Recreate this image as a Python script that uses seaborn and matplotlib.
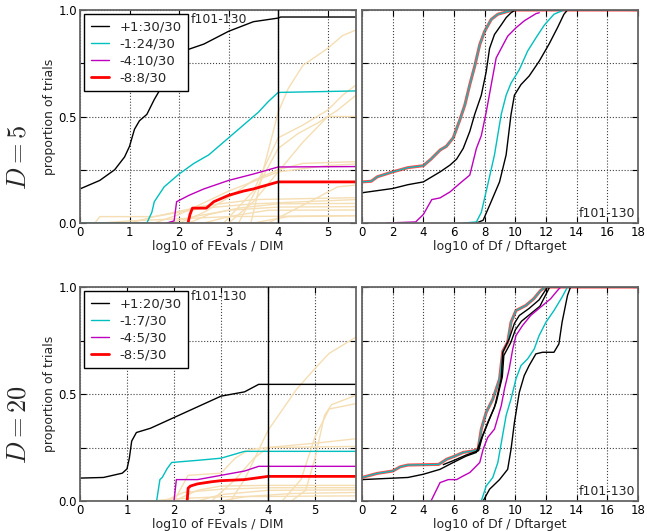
import numpy as np
import pandas as pd
import seaborn as sns
import matplotlib
matplotlib.use("Agg")
import matplotlib.pyplot as plt

# ---------------- data ----------------
# D=5, ECDF over log10(FEvals/DIM)
d5_xmax = 5.57
d5_p1_x = [0, 0.4, 0.7, 0.9, 1.0, 1.1, 1.2, 1.35, 1.5, 1.6, 1.8, 2.0, 2.5, 3.0, 3.5, 4.0, 4.05, 5.57]
d5_p1_y = [0.16, 0.20, 0.25, 0.31, 0.36, 0.44, 0.48, 0.51, 0.58, 0.62, 0.72, 0.80, 0.84, 0.90, 0.945, 0.962, 0.967, 0.967]
d5_m1_x = [0, 1.35, 1.45, 1.5, 1.7, 2.0, 2.3, 2.6, 3.0, 3.3, 3.6, 3.8, 4.0, 5.57]
d5_m1_y = [0, 0, 0.05, 0.10, 0.17, 0.23, 0.28, 0.32, 0.40, 0.46, 0.52, 0.57, 0.613, 0.62]
d5_m4_x = [1.75, 1.9, 1.95, 2.2, 2.5, 3.0, 3.5, 4.0, 5.57]
d5_m4_y = [0, 0.01, 0.10, 0.13, 0.16, 0.20, 0.23, 0.263, 0.265]
d5_m8_x = [2.18, 2.22, 2.27, 2.55, 2.7, 3.0, 3.3, 3.5, 4.0, 5.57]
d5_m8_y = [0, 0.04, 0.07, 0.07, 0.10, 0.13, 0.15, 0.16, 0.193, 0.193]
d5_labels = ["+1:30/30", "-1:24/30", "-4:10/30", "-8:8/30"]

d5_wheat = [
    ([0, 3.45, 3.7, 4.0, 4.2, 4.5, 5.0, 5.3, 5.57], [0, 0, 0.25, 0.52, 0.63, 0.74, 0.82, 0.88, 0.906]),
    ([0, 2.9, 3.5, 4.0, 4.5, 5.0, 5.3, 5.57], [0, 0, 0.15, 0.40, 0.46, 0.53, 0.60, 0.648]),
    ([0, 3.2, 3.7, 4.0, 4.4, 4.8, 5.2, 5.57], [0, 0, 0.22, 0.35, 0.42, 0.47, 0.53, 0.60]),
    ([0, 3.0, 3.5, 4.0, 4.5, 5.0, 5.57], [0, 0, 0.10, 0.24, 0.38, 0.50, 0.50]),
    ([0, 2.0, 2.5, 3.0, 3.5, 4.0, 4.5, 5.57], [0, 0, 0.05, 0.12, 0.20, 0.25, 0.28, 0.288]),
    ([0, 1.5, 2.0, 3.0, 4.0, 5.0, 5.57], [0, 0, 0.04, 0.15, 0.24, 0.27, 0.277]),
    ([0, 3.8, 4.3, 4.8, 5.2, 5.57], [0, 0, 0.06, 0.12, 0.17, 0.178]),
    ([0, 0.3, 0.4, 1.5, 2.5, 3.5, 5.57], [0, 0, 0.03, 0.03, 0.08, 0.11, 0.119]),
    ([0, 1.0, 1.5, 2.5, 3.5, 4.5, 5.57], [0, 0, 0.03, 0.07, 0.09, 0.10, 0.11]),
    ([0, 2.2, 2.6, 3.2, 4.0, 5.57], [0, 0, 0.04, 0.07, 0.09, 0.092]),
    ([0, 1.8, 2.3, 3.0, 4.0, 5.57], [0, 0, 0.03, 0.06, 0.075, 0.077]),
    ([0, 2.5, 3.0, 3.8, 5.57], [0, 0, 0.03, 0.06, 0.061]),
    ([0, 3.5, 4.2, 5.57], [0, 0, 0.03, 0.034]),
    ([0, 0.4, 1.0, 2.0, 3.0, 5.57], [0, 0, 0.01, 0.02, 0.03, 0.035]),
]

# D=5, ECDF over log10(Df/Dftarget)
d5_df_a_x = [0, 0.6, 1, 2, 3, 4, 4.5, 5.1, 5.5, 5.95, 6.38, 6.71, 7.03, 7.35, 7.68, 8.0, 8.43, 8.86, 9.6, 10.0, 18]
d5_df_a_y = [0.193, 0.196, 0.217, 0.24, 0.26, 0.269, 0.30, 0.343, 0.36, 0.40, 0.484, 0.555, 0.65, 0.736, 0.838, 0.90, 0.956, 0.98, 0.995, 1.0, 1.0]
d5_df_b_x = [0, 2, 3, 4, 5.09, 5.74, 6.17, 6.6, 7.03, 7.35, 7.78, 8.1, 8.32, 8.64, 9.08, 9.4, 9.72, 10.0, 18]
d5_df_b_y = [0.142, 0.162, 0.18, 0.193, 0.24, 0.272, 0.30, 0.35, 0.43, 0.51, 0.60, 0.71, 0.82, 0.885, 0.93, 0.964, 0.987, 1.0, 1.0]
d5_df_c_x = [1.6, 3.5, 4.0, 4.55, 5.09, 5.74, 6.38, 7.03, 7.46, 7.78, 8.1, 8.43, 8.75, 9.08, 9.5, 10.05, 10.6, 11.35, 11.56]
d5_df_c_y = [0, 0.005, 0.04, 0.11, 0.118, 0.146, 0.186, 0.225, 0.35, 0.41, 0.52, 0.65, 0.775, 0.82, 0.877, 0.917, 0.95, 0.983, 0.987]
d5_df_d_x = [6.6, 7.46, 7.78, 8.2, 8.64, 9.08, 9.4, 9.72, 10.26, 10.8, 11.35, 11.9, 12.52, 13.17, 18]
d5_df_d_y = [0, 0.005, 0.05, 0.18, 0.32, 0.51, 0.60, 0.657, 0.72, 0.807, 0.87, 0.93, 0.98, 1.0, 1.0]
d5_df_e_x = [7.46, 7.9, 8.32, 8.97, 9.4, 9.72, 9.94, 10.37, 10.9, 11.56, 12.2, 12.75, 13.17, 13.4, 18]
d5_df_e_y = [0, 0.013, 0.083, 0.193, 0.32, 0.51, 0.60, 0.65, 0.69, 0.76, 0.84, 0.917, 0.98, 1.0, 1.0]

# D=20, ECDF over log10(FEvals/DIM)
d20_xmax = 5.87
d20_p1_x = [0, 0.5, 0.9, 1.0, 1.05, 1.1, 1.2, 1.5, 1.8, 2.0, 2.5, 3.0, 3.5, 3.8, 5.87]
d20_p1_y = [0.107, 0.11, 0.13, 0.15, 0.20, 0.28, 0.32, 0.34, 0.37, 0.39, 0.44, 0.49, 0.51, 0.545, 0.545]
d20_m1_x = [1.63, 1.7, 1.75, 1.85, 1.95, 2.5, 3.0, 3.5, 5.87]
d20_m1_y = [0, 0.10, 0.11, 0.15, 0.18, 0.19, 0.20, 0.232, 0.232]
d20_m4_x = [2.0, 2.05, 2.5, 3.0, 3.5, 3.8, 5.87]
d20_m4_y = [0, 0.10, 0.10, 0.12, 0.14, 0.162, 0.162]
d20_m8_x = [2.28, 2.3, 2.35, 2.5, 2.8, 3.0, 3.5, 4.0, 5.87]
d20_m8_y = [0, 0.06, 0.07, 0.08, 0.09, 0.095, 0.10, 0.115, 0.115]
d20_labels = ["+1:20/30", "-1:7/30", "-4:5/30", "-8:5/30"]

d20_wheat = [
    ([0, 3.2, 3.5, 4.0, 4.6, 5.0, 5.3, 5.87], [0, 0, 0.10, 0.33, 0.52, 0.62, 0.69, 0.766]),
    ([0, 4.5, 4.8, 5.0, 5.2, 5.35, 5.87], [0, 0, 0.05, 0.20, 0.40, 0.45, 0.494]),
    ([0, 4.3, 4.7, 5.0, 5.3, 5.87], [0, 0, 0.10, 0.30, 0.43, 0.455]),
    ([0, 2.8, 3.3, 3.7, 4.0, 5.0, 5.87], [0, 0, 0.10, 0.20, 0.25, 0.27, 0.291]),
    ([0, 2.0, 2.3, 3.0, 3.3, 3.6, 4.0, 5.87], [0, 0, 0.12, 0.13, 0.20, 0.24, 0.25, 0.255]),
    ([0, 2.0, 2.5, 3.0, 4.0, 5.87], [0, 0, 0.05, 0.07, 0.073, 0.073]),
    ([0, 1.8, 2.2, 3.0, 4.0, 5.87], [0, 0, 0.04, 0.055, 0.062, 0.062]),
    ([0, 2.5, 3.0, 4.0, 5.87], [0, 0, 0.03, 0.05, 0.052]),
    ([0, 3.0, 3.5, 4.5, 5.87], [0, 0, 0.02, 0.035, 0.04]),
    ([0, 1.5, 2.0, 3.0, 5.87], [0, 0, 0.01, 0.02, 0.024]),
]

# D=20, ECDF over log10(Df/Dftarget)
d20_df_a_x = [0, 1, 2, 2.5, 3, 5.0, 5.52, 6.06, 6.6, 7.25, 7.57, 7.78, 8.1, 8.53, 8.97, 9.18, 9.5, 9.72, 10.04, 10.69, 11.2, 11.65, 12.0, 18]
d20_df_a_y = [0.11, 0.129, 0.14, 0.16, 0.168, 0.171, 0.195, 0.21, 0.227, 0.234, 0.242, 0.336, 0.414, 0.476, 0.57, 0.70, 0.742, 0.836, 0.89, 0.914, 0.945, 0.984, 1.0, 1.0]
d20_df_b_x = [0, 3, 4, 5.09, 5.95, 6.8, 7.46, 7.78, 8.2, 8.64, 9.08, 9.18, 9.6, 9.94, 10.26, 10.9, 11.55, 12.1, 18]
d20_df_b_y = [0.10, 0.11, 0.125, 0.148, 0.18, 0.21, 0.227, 0.29, 0.367, 0.4375, 0.57, 0.695, 0.758, 0.83, 0.867, 0.90, 0.94, 1.0, 1.0]
d20_df_f_x = [5.3, 6.0, 6.8, 7.6, 7.85, 8.3, 8.75, 9.15, 9.25, 9.7, 10.0, 10.4, 11.0, 11.6, 12.24, 18]
d20_df_f_y = [0.17, 0.19, 0.215, 0.235, 0.30, 0.38, 0.46, 0.58, 0.68, 0.74, 0.80, 0.84, 0.875, 0.91, 1.0, 1.0]
d20_df_c_x = [4.5, 5.09, 5.63, 6.17, 6.6, 7.03, 7.35, 7.68, 7.9, 8.2, 8.64, 9.08, 9.29, 9.6, 9.83, 10.04, 10.47, 11.0, 11.65, 12.3, 12.75, 12.96, 18]
d20_df_c_y = [0, 0.086, 0.10, 0.10, 0.117, 0.133, 0.156, 0.18, 0.242, 0.297, 0.336, 0.445, 0.523, 0.617, 0.71, 0.773, 0.82, 0.867, 0.906, 0.945, 0.984, 1.0, 1.0]
d20_df_d_x = [7.78, 8.1, 8.53, 8.86, 9.08, 9.4, 9.72, 10.04, 10.37, 10.8, 11.23, 11.55, 12.0, 12.52, 13.05, 13.4, 18]
d20_df_d_y = [0, 0.07, 0.11, 0.18, 0.27, 0.40, 0.477, 0.57, 0.633, 0.664, 0.71, 0.773, 0.836, 0.89, 0.953, 1.0, 1.0]
d20_df_e_x = [7.9, 8.32, 8.97, 9.5, 9.72, 9.94, 10.26, 10.58, 10.9, 11.34, 11.77, 12.52, 12.84, 13.05, 13.4, 13.6, 18]
d20_df_e_y = [0, 0.055, 0.10, 0.148, 0.242, 0.367, 0.508, 0.586, 0.633, 0.6875, 0.695, 0.695, 0.734, 0.836, 0.96, 1.0, 1.0]

# ---------------- styling ----------------
sns.set_style("ticks")
plt.rcParams["font.family"] = ["DejaVu Sans"]
plt.rcParams["mathtext.fontset"] = "cm"
plt.rcParams["xtick.direction"] = "in"
plt.rcParams["ytick.direction"] = "in"
plt.rcParams["xtick.top"] = True
plt.rcParams["ytick.right"] = True

fig = plt.figure(figsize=(6.47, 5.31), dpi=100)
ax_tl = fig.add_axes([0.1236, 0.58, 0.4266, 0.4012])
ax_tr = fig.add_axes([0.5595, 0.58, 0.4266, 0.4012])
ax_bl = fig.add_axes([0.1236, 0.0565, 0.4266, 0.403])
ax_br = fig.add_axes([0.5595, 0.0565, 0.4266, 0.403])

wheat = "#f5deb3"
cols = ["k", "c", "m", "r"]
lws = [1.0, 1.0, 1.0, 2.0]


def line(ax, x, y, **kw):
    sns.lineplot(x=x, y=y, ax=ax, estimator=None, sort=False, **kw)


def style_axes(ax, xmax, xticks):
    ax.set_xlim(0, xmax)
    ax.set_ylim(0, 1)
    ax.set_xticks(xticks)
    ax.set_xticklabels([str(t) for t in xticks])
    ax.set_yticks([0, 0.25, 0.5, 0.75, 1.0])
    ax.tick_params(labelsize=8.5, length=4, width=0.8, pad=2, colors="k")
    ax.grid(True, ls=":", color="0.25", lw=0.8)
    ax.set_axisbelow(True)
    for s in ax.spines.values():
        s.set_color("0.4")
        s.set_linewidth(1.3)


def left_panel(ax, xmax, wheat_lines, curves, labels):
    for wx, wy in wheat_lines:
        line(ax, wx, wy, color=wheat, lw=1.0)
    ax.axvline(4, color="k", lw=1.0, zorder=3)
    for (cx, cy), c, lw, lab in zip(curves, cols, lws, labels):
        line(ax, cx, cy, color=c, lw=lw, label=lab)
    style_axes(ax, xmax, [0, 1, 2, 3, 4, 5])
    ax.set_yticklabels(["0.0", "", "0.5", "", "1.0"])
    ax.set_xlabel("log10 of FEvals / DIM", fontsize=9, labelpad=1)
    ax.set_ylabel("proportion of trials", fontsize=9, labelpad=2)
    ax.text(0.40, 0.985, "f101-130", transform=ax.transAxes, ha="left", va="top", fontsize=9)
    leg = ax.legend(loc="upper left", fontsize=9.5, fancybox=False, edgecolor="k",
                    framealpha=1, handlelength=1.4, handletextpad=0.8, borderpad=0.5,
                    labelspacing=0.3, borderaxespad=0.3)
    leg.get_frame().set_linewidth(1.0)


def right_panel(ax, curves):
    (ax_, ay_), (bx, by), (cx, cy), (dx, dy), (ex, ey) = curves[:5]
    line(ax, ax_, ay_, color="r", lw=2.2, alpha=0.7)
    line(ax, ax_, ay_, color="c", lw=0.9)
    line(ax, bx, by, color="k", lw=1.0)
    for fx, fy in curves[5:]:
        line(ax, fx, fy, color="k", lw=1.0)
    line(ax, cx, cy, color="m", lw=1.0)
    line(ax, dx, dy, color="c", lw=1.0)
    line(ax, ex, ey, color="k", lw=1.0)
    style_axes(ax, 18, list(range(0, 19, 2)))
    ax.set_yticklabels([])
    ax.set_xlabel("log10 of Df / Dftarget", fontsize=9, labelpad=1)
    ax.text(0.99, 0.012, "f101-130", transform=ax.transAxes, ha="right", va="bottom", fontsize=9)


left_panel(ax_tl, d5_xmax, d5_wheat,
           [(d5_p1_x, d5_p1_y), (d5_m1_x, d5_m1_y), (d5_m4_x, d5_m4_y), (d5_m8_x, d5_m8_y)],
           d5_labels)
right_panel(ax_tr, [(d5_df_a_x, d5_df_a_y), (d5_df_b_x, d5_df_b_y), (d5_df_c_x, d5_df_c_y),
                    (d5_df_d_x, d5_df_d_y), (d5_df_e_x, d5_df_e_y)])
left_panel(ax_bl, d20_xmax, d20_wheat,
           [(d20_p1_x, d20_p1_y), (d20_m1_x, d20_m1_y), (d20_m4_x, d20_m4_y), (d20_m8_x, d20_m8_y)],
           d20_labels)
right_panel(ax_br, [(d20_df_a_x, d20_df_a_y), (d20_df_b_x, d20_df_b_y), (d20_df_c_x, d20_df_c_y),
                    (d20_df_d_x, d20_df_d_y), (d20_df_e_x, d20_df_e_y), (d20_df_f_x, d20_df_f_y)])

fig.text(0.028, 0.704, "$D = 5$", rotation=90, ha="center", va="center", fontsize=19)
fig.text(0.028, 0.20, "$D = 20$", rotation=90, ha="center", va="center", fontsize=19)

fig.savefig("out.png", dpi=100)
